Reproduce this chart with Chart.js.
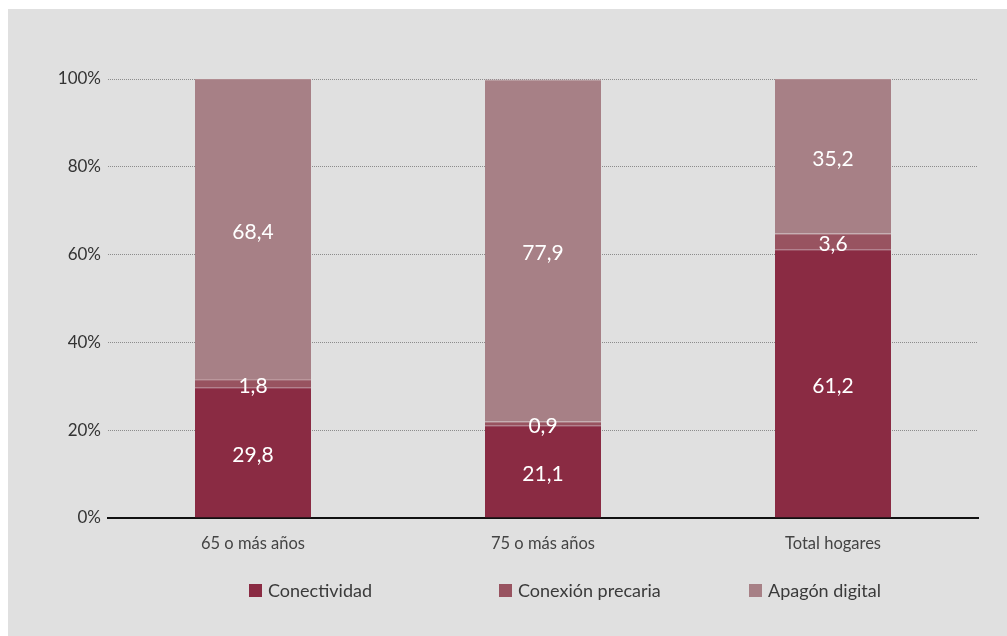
<!DOCTYPE html>
<html>
<head>
<meta charset="utf-8">
<script src="https://cdn.jsdelivr.net/npm/chart.js@4/dist/chart.umd.min.js"></script>
<style>
  html, body { margin: 0; padding: 0; background: #fff; }
  #panel {
    position: absolute; left: 8px; top: 9px;
    width: 999px; height: 627px;
    background: #e0e0e0;
  }
  #chart { position: absolute; left: 0; top: 0; }
  #legend {
    position: absolute; left: 241px; top: 570px;
    font-family: 'Lato', sans-serif; font-size: 18px; color: #3a3a3a;
  }
  .item { position: absolute; top: 0; white-space: nowrap; display: flex; align-items: center; }
  .box { width: 13px; height: 13px; margin-right: 6px; display: inline-block; }
</style>
</head>
<body>
<div id="panel">
  <canvas id="chart" width="999" height="627"></canvas>
  <div id="legend"></div>
</div>
<script>
  const categories = ['65 o más años', '75 o más años', 'Total hogares'];
  const conectividad = [29.8, 21.1, 61.2];
  const precaria = [1.8, 0.9, 3.6];
  const apagon = [68.4, 77.9, 35.2];
  const seriesNames = ['Conectividad', 'Conexión precaria', 'Apagón digital'];
  const seriesColors = ['#8a2b43', '#985360', '#a78086'];
  const edgeColors = ['#96435a', '#a4666f', '#b18d92'];

  const fmt = (v) => v.toFixed(1).replace('.', ',');

  // white numbers in the middle of each segment
  const segmentLabels = {
    id: 'segmentLabels',
    afterDatasetsDraw(chart) {
      const ctx = chart.ctx;
      ctx.save();
      ctx.fillStyle = '#fff';
      ctx.font = '21px Lato, sans-serif';
      ctx.textAlign = 'center';
      ctx.textBaseline = 'middle';
      chart.data.datasets.forEach((ds, i) => {
        chart.getDatasetMeta(i).data.forEach((bar, j) => {
          const mid = (bar.y + bar.base) / 2;
          ctx.fillText(fmt(ds.data[j]), bar.x, mid + 3);
        });
      });
      ctx.restore();
    }
  };

  new Chart(document.getElementById('chart'), {
    type: 'bar',
    data: {
      labels: categories,
      datasets: [conectividad, precaria, apagon].map((d, i) => ({
        label: seriesNames[i],
        data: d,
        backgroundColor: seriesColors[i],
        borderColor: edgeColors[i],
        borderWidth: { top: 1, left: 0, right: 0, bottom: 0 },
        borderSkipped: false,
        categoryPercentage: 1,
        barPercentage: 0.4
      }))
    },
    options: {
      responsive: false,
      animation: false,
      layout: { padding: { left: 0, right: 29, top: 70, bottom: 78 } },
      plugins: {
        legend: { display: false },
        tooltip: { enabled: false }
      },
      scales: {
        x: {
          stacked: true,
          grid: { display: false },
          border: { display: true, color: '#111', width: 2 },
          ticks: {
            color: '#444',
            font: { family: 'Lato', size: 16.5 },
            padding: 8
          },
          afterFit: (axis) => { axis.height = 40; }
        },
        y: {
          stacked: true,
          min: 0,
          max: 100,
          border: { display: false, dash: [1, 1] },
          grid: {
            color: '#8c8c8c',
            lineWidth: 1,
            drawTicks: false
          },
          ticks: {
            stepSize: 20,
            color: '#333',
            font: { family: 'Lato', size: 17 },
            padding: 7,
            callback: (v) => v + '%'
          },
          afterFit: (axis) => { axis.width = 100; }
        }
      }
    },
    plugins: [segmentLabels]
  });

  // legend at fixed columns, like the original
  const legend = document.getElementById('legend');
  seriesNames.forEach((name, i) => {
    const item = document.createElement('div');
    item.className = 'item';
    item.style.left = (i * 250) + 'px';
    item.innerHTML = '<span class="box" style="background:' + seriesColors[i] + '"></span>' + name;
    legend.appendChild(item);
  });
</script>
</body>
</html>
